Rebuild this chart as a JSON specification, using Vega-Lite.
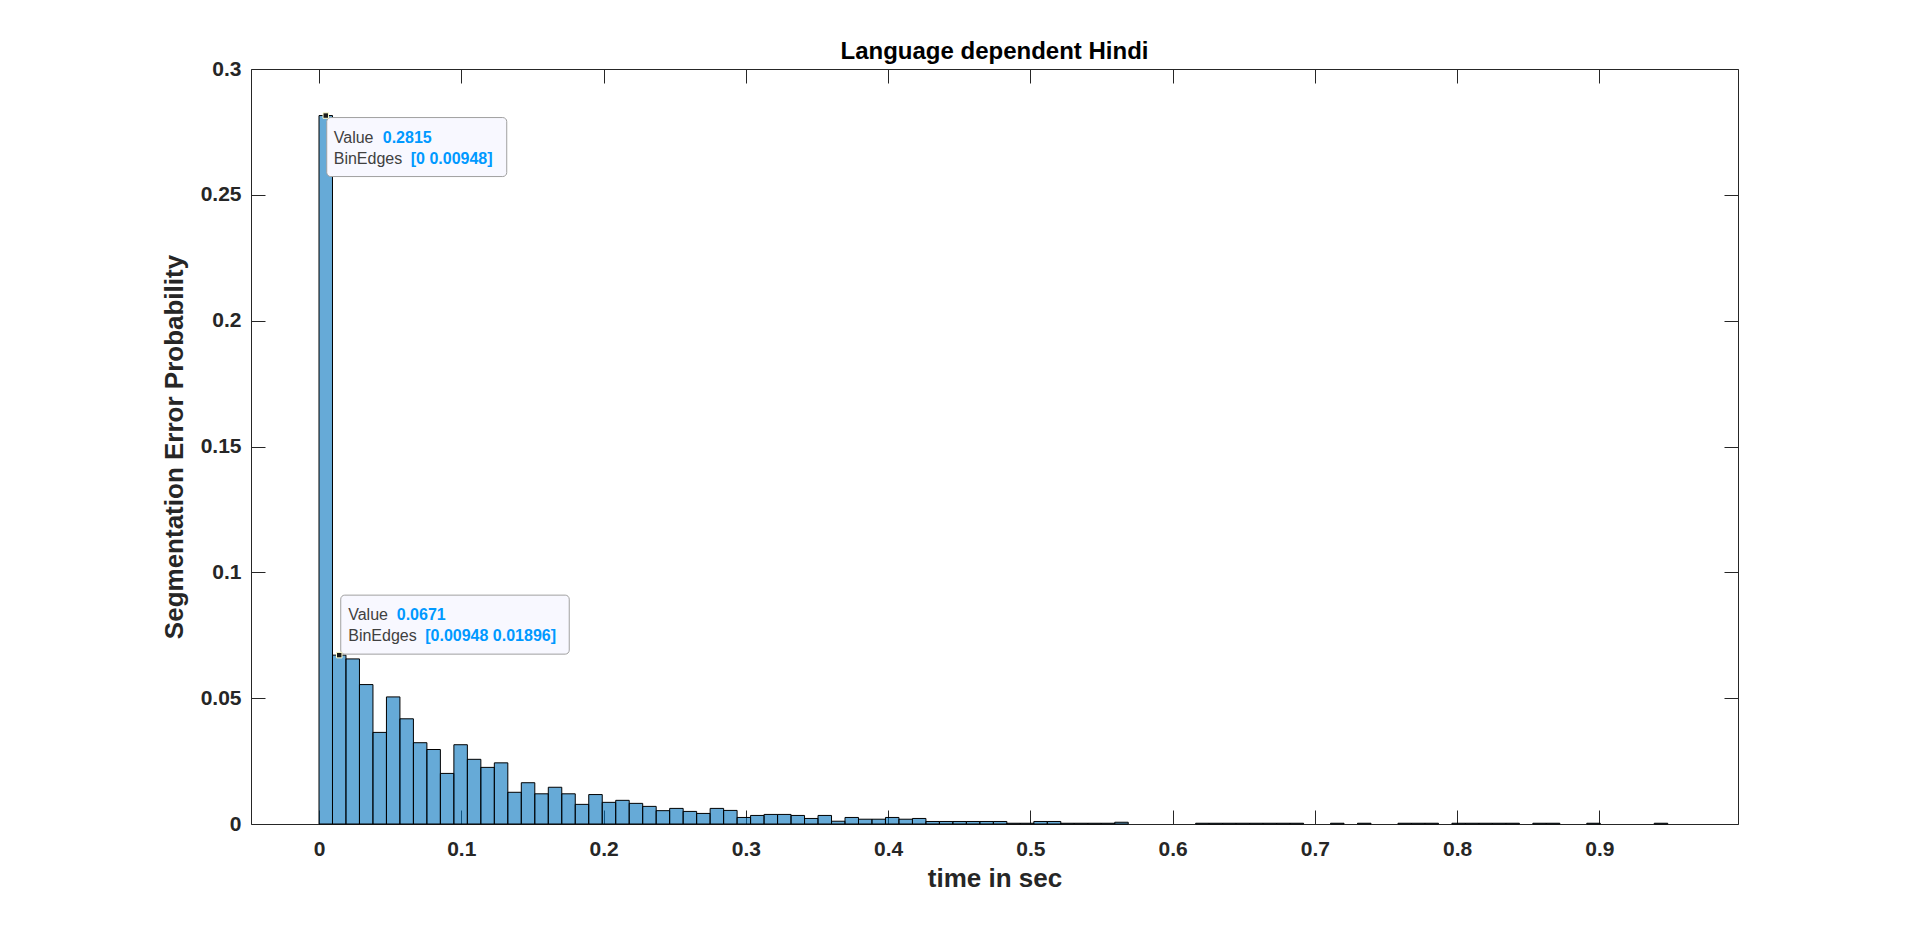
{
  "$schema": "https://vega.github.io/schema/vega-lite/v6.json",
  "width": 1487,
  "height": 755,
  "autosize": {"type": "none"},
  "padding": {"left": 251, "top": 69, "right": 180, "bottom": 101},
  "background": "white",
  "title": {"text": "Language dependent Hindi", "font": "Liberation Sans", "fontSize": 24, "fontWeight": "bold", "color": "#000000", "anchor": "middle", "offset": -6},
  "config": {"view": {"stroke": null}},
  "datasets": {
    "bins": [
      {"x0": 0, "x1": 0.00948, "p": 0.2815},
      {"x0": 0.00948, "x1": 0.01896, "p": 0.0671},
      {"x0": 0.01896, "x1": 0.02844, "p": 0.0656},
      {"x0": 0.02844, "x1": 0.03792, "p": 0.0554},
      {"x0": 0.03792, "x1": 0.0474, "p": 0.0364},
      {"x0": 0.0474, "x1": 0.05688, "p": 0.0505},
      {"x0": 0.05688, "x1": 0.06636, "p": 0.0418},
      {"x0": 0.06636, "x1": 0.07584, "p": 0.0323},
      {"x0": 0.07584, "x1": 0.08532, "p": 0.0296},
      {"x0": 0.08532, "x1": 0.0948, "p": 0.0201},
      {"x0": 0.0948, "x1": 0.10428, "p": 0.0315},
      {"x0": 0.10428, "x1": 0.11376, "p": 0.0257},
      {"x0": 0.11376, "x1": 0.12324, "p": 0.0225},
      {"x0": 0.12324, "x1": 0.13272, "p": 0.0243},
      {"x0": 0.13272, "x1": 0.1422, "p": 0.0126},
      {"x0": 0.1422, "x1": 0.15168, "p": 0.0164},
      {"x0": 0.15168, "x1": 0.16116, "p": 0.012},
      {"x0": 0.16116, "x1": 0.17064, "p": 0.0146},
      {"x0": 0.17064, "x1": 0.18012, "p": 0.012},
      {"x0": 0.18012, "x1": 0.1896, "p": 0.0078},
      {"x0": 0.1896, "x1": 0.19908, "p": 0.0117},
      {"x0": 0.19908, "x1": 0.20856, "p": 0.0086},
      {"x0": 0.20856, "x1": 0.21804, "p": 0.0094},
      {"x0": 0.21804, "x1": 0.22752, "p": 0.0082},
      {"x0": 0.22752, "x1": 0.237, "p": 0.007},
      {"x0": 0.237, "x1": 0.24648, "p": 0.0053},
      {"x0": 0.24648, "x1": 0.25596, "p": 0.0062},
      {"x0": 0.25596, "x1": 0.26544, "p": 0.005},
      {"x0": 0.26544, "x1": 0.27492, "p": 0.0042},
      {"x0": 0.27492, "x1": 0.2844, "p": 0.0062},
      {"x0": 0.2844, "x1": 0.29388, "p": 0.0054},
      {"x0": 0.29388, "x1": 0.30336, "p": 0.0026},
      {"x0": 0.30336, "x1": 0.31284, "p": 0.0034},
      {"x0": 0.31284, "x1": 0.32232, "p": 0.0038},
      {"x0": 0.32232, "x1": 0.3318, "p": 0.0038},
      {"x0": 0.3318, "x1": 0.34128, "p": 0.0034},
      {"x0": 0.34128, "x1": 0.35076, "p": 0.0022},
      {"x0": 0.35076, "x1": 0.36024, "p": 0.0034},
      {"x0": 0.36024, "x1": 0.36972, "p": 0.0011},
      {"x0": 0.36972, "x1": 0.3792, "p": 0.0026},
      {"x0": 0.3792, "x1": 0.38868, "p": 0.0019},
      {"x0": 0.38868, "x1": 0.39816, "p": 0.0019},
      {"x0": 0.39816, "x1": 0.40764, "p": 0.0026},
      {"x0": 0.40764, "x1": 0.41712, "p": 0.0019},
      {"x0": 0.41712, "x1": 0.4266, "p": 0.0022},
      {"x0": 0.4266, "x1": 0.43608, "p": 0.001},
      {"x0": 0.43608, "x1": 0.44556, "p": 0.001},
      {"x0": 0.44556, "x1": 0.45504, "p": 0.001},
      {"x0": 0.45504, "x1": 0.46452, "p": 0.001},
      {"x0": 0.46452, "x1": 0.474, "p": 0.001},
      {"x0": 0.474, "x1": 0.48348, "p": 0.001},
      {"x0": 0.48348, "x1": 0.49296, "p": 0.0003},
      {"x0": 0.49296, "x1": 0.50244, "p": 0.0003},
      {"x0": 0.50244, "x1": 0.51192, "p": 0.001},
      {"x0": 0.51192, "x1": 0.5214, "p": 0.001},
      {"x0": 0.5214, "x1": 0.53088, "p": 0.0003},
      {"x0": 0.53088, "x1": 0.54036, "p": 0.0003},
      {"x0": 0.54036, "x1": 0.54984, "p": 0.0003},
      {"x0": 0.54984, "x1": 0.55932, "p": 0.0003},
      {"x0": 0.55932, "x1": 0.5688, "p": 0.0007},
      {"x0": 0.6162, "x1": 0.62568, "p": 0.0003},
      {"x0": 0.62568, "x1": 0.63516, "p": 0.0003},
      {"x0": 0.63516, "x1": 0.64464, "p": 0.0003},
      {"x0": 0.64464, "x1": 0.65412, "p": 0.0003},
      {"x0": 0.65412, "x1": 0.6636, "p": 0.0003},
      {"x0": 0.6636, "x1": 0.67308, "p": 0.0003},
      {"x0": 0.67308, "x1": 0.68256, "p": 0.0003},
      {"x0": 0.68256, "x1": 0.69204, "p": 0.0003},
      {"x0": 0.711, "x1": 0.72048, "p": 0.0003},
      {"x0": 0.72996, "x1": 0.73944, "p": 0.0003},
      {"x0": 0.7584, "x1": 0.76788, "p": 0.0003},
      {"x0": 0.76788, "x1": 0.77736, "p": 0.0003},
      {"x0": 0.77736, "x1": 0.78684, "p": 0.0003},
      {"x0": 0.79632, "x1": 0.8058, "p": 0.0003},
      {"x0": 0.8058, "x1": 0.81528, "p": 0.0003},
      {"x0": 0.81528, "x1": 0.82476, "p": 0.0003},
      {"x0": 0.82476, "x1": 0.83424, "p": 0.0003},
      {"x0": 0.83424, "x1": 0.84372, "p": 0.0003},
      {"x0": 0.8532, "x1": 0.86268, "p": 0.0003},
      {"x0": 0.86268, "x1": 0.87216, "p": 0.0003},
      {"x0": 0.89112, "x1": 0.9006, "p": 0.0003},
      {"x0": 0.93852, "x1": 0.948, "p": 0.0003}
    ],
    "tips": [
      {"tip": 1, "x": 0.00474, "v": 0.2815, "lab1": "Value", "val1": "0.2815", "lab2": "BinEdges", "val2": "[0 0.00948]"},
      {"tip": 2, "x": 0.01422, "v": 0.0671, "lab1": "Value", "val1": "0.0671", "lab2": "BinEdges", "val2": "[0.00948 0.01896]"}
    ]
  },
  "resolve": {"axis": {"x": "independent", "y": "independent"}},
  "layer": [
    {
      "data": {"name": "bins"},
      "mark": {"type": "rect", "fill": "#0072BD", "fillOpacity": 0.6, "stroke": "#000000", "strokeWidth": 1},
      "encoding": {
        "x": {"field": "x0", "type": "quantitative",
          "scale": {"domain": [-0.0478, 0.9974], "nice": false, "zero": false},
          "axis": {"orient": "bottom", "values": [0, 0.1, 0.2, 0.3, 0.4, 0.5, 0.6, 0.7, 0.8, 0.9], "format": "~g",
            "title": "time in sec", "grid": false, "domain": true, "domainColor": "#262626", "domainWidth": 1,
            "ticks": true, "tickSize": -14, "tickColor": "#262626", "tickWidth": 1,
            "labelFont": "Liberation Sans", "labelFontSize": 21, "labelFontWeight": "bold", "labelColor": "#262626",
            "labelPadding": 28, "labelFlush": false, "labelOverlap": false,
            "titleFont": "Liberation Sans", "titleFontSize": 26, "titleFontWeight": "bold", "titleColor": "#262626", "titlePadding": 6}},
        "x2": {"field": "x1"},
        "y": {"field": "p", "type": "quantitative",
          "scale": {"domain": [0, 0.3], "nice": false},
          "axis": {"orient": "left", "values": [0, 0.05, 0.1, 0.15, 0.2, 0.25, 0.3], "format": "~g",
            "title": "Segmentation Error Probability", "grid": false, "domain": true, "domainColor": "#262626", "domainWidth": 1,
            "ticks": true, "tickSize": -14, "tickColor": "#262626", "tickWidth": 1,
            "labelFont": "Liberation Sans", "labelFontSize": 21, "labelFontWeight": "bold", "labelColor": "#262626",
            "labelPadding": 24, "labelFlush": false, "labelOverlap": false,
            "titleFont": "Liberation Sans", "titleFontSize": 26, "titleFontWeight": "bold", "titleColor": "#262626", "titlePadding": 13}},
        "y2": {"datum": 0}
      }
    },
    {
      "data": {"name": "tips"},
      "transform": [{"filter": "datum.tip == 1"}],
      "mark": {"type": "rect", "fill": "#F8F8FF", "stroke": "#A0A0A0", "strokeWidth": 1, "cornerRadius": 4, "xOffset": 1, "x2Offset": 181, "yOffset": 2, "y2Offset": 61},
      "encoding": {
        "x": {"field": "x", "type": "quantitative",
          "axis": {"orient": "top", "values": [0, 0.1, 0.2, 0.3, 0.4, 0.5, 0.6, 0.7, 0.8, 0.9], "labels": false, "title": null, "grid": false,
            "domain": true, "domainColor": "#262626", "domainWidth": 1, "ticks": true, "tickSize": -14, "tickColor": "#262626", "tickWidth": 1}},
        "x2": {"field": "x"},
        "y": {"field": "v", "type": "quantitative",
          "axis": {"orient": "right", "values": [0, 0.05, 0.1, 0.15, 0.2, 0.25, 0.3], "labels": false, "title": null, "grid": false,
            "domain": true, "domainColor": "#262626", "domainWidth": 1, "ticks": true, "tickSize": -14, "tickColor": "#262626", "tickWidth": 1}},
        "y2": {"field": "v"}
      }
    },
    {
      "data": {"name": "tips"},
      "transform": [{"filter": "datum.tip == 1"}],
      "mark": {"type": "text", "font": "Liberation Sans", "fontSize": 16, "color": "#404040", "align": "left", "baseline": "alphabetic", "dx": 8, "dy": 27},
      "encoding": {"x": {"field": "x", "type": "quantitative", "axis": null}, "y": {"field": "v", "type": "quantitative", "axis": null}, "text": {"field": "lab1"}}
    },
    {
      "data": {"name": "tips"},
      "transform": [{"filter": "datum.tip == 1"}],
      "mark": {"type": "text", "font": "Liberation Sans", "fontSize": 16, "fontWeight": "bold", "color": "#0099FF", "align": "left", "baseline": "alphabetic", "dx": 57, "dy": 27},
      "encoding": {"x": {"field": "x", "type": "quantitative", "axis": null}, "y": {"field": "v", "type": "quantitative", "axis": null}, "text": {"field": "val1"}}
    },
    {
      "data": {"name": "tips"},
      "transform": [{"filter": "datum.tip == 1"}],
      "mark": {"type": "text", "font": "Liberation Sans", "fontSize": 16, "color": "#404040", "align": "left", "baseline": "alphabetic", "dx": 8, "dy": 48},
      "encoding": {"x": {"field": "x", "type": "quantitative", "axis": null}, "y": {"field": "v", "type": "quantitative", "axis": null}, "text": {"field": "lab2"}}
    },
    {
      "data": {"name": "tips"},
      "transform": [{"filter": "datum.tip == 1"}],
      "mark": {"type": "text", "font": "Liberation Sans", "fontSize": 16, "fontWeight": "bold", "color": "#0099FF", "align": "left", "baseline": "alphabetic", "dx": 85, "dy": 48},
      "encoding": {"x": {"field": "x", "type": "quantitative", "axis": null}, "y": {"field": "v", "type": "quantitative", "axis": null}, "text": {"field": "val2"}}
    },
    {
      "data": {"name": "tips"},
      "transform": [{"filter": "datum.tip == 2"}],
      "mark": {"type": "rect", "fill": "#F8F8FF", "stroke": "#A0A0A0", "strokeWidth": 1, "cornerRadius": 4, "xOffset": 1.5, "x2Offset": 230, "yOffset": -60, "y2Offset": -1},
      "encoding": {"x": {"field": "x", "type": "quantitative", "axis": null}, "x2": {"field": "x"}, "y": {"field": "v", "type": "quantitative", "axis": null}, "y2": {"field": "v"}}
    },
    {
      "data": {"name": "tips"},
      "transform": [{"filter": "datum.tip == 2"}],
      "mark": {"type": "text", "font": "Liberation Sans", "fontSize": 16, "color": "#404040", "align": "left", "baseline": "alphabetic", "dx": 9, "dy": -35},
      "encoding": {"x": {"field": "x", "type": "quantitative", "axis": null}, "y": {"field": "v", "type": "quantitative", "axis": null}, "text": {"field": "lab1"}}
    },
    {
      "data": {"name": "tips"},
      "transform": [{"filter": "datum.tip == 2"}],
      "mark": {"type": "text", "font": "Liberation Sans", "fontSize": 16, "fontWeight": "bold", "color": "#0099FF", "align": "left", "baseline": "alphabetic", "dx": 57.5, "dy": -35},
      "encoding": {"x": {"field": "x", "type": "quantitative", "axis": null}, "y": {"field": "v", "type": "quantitative", "axis": null}, "text": {"field": "val1"}}
    },
    {
      "data": {"name": "tips"},
      "transform": [{"filter": "datum.tip == 2"}],
      "mark": {"type": "text", "font": "Liberation Sans", "fontSize": 16, "color": "#404040", "align": "left", "baseline": "alphabetic", "dx": 9, "dy": -14},
      "encoding": {"x": {"field": "x", "type": "quantitative", "axis": null}, "y": {"field": "v", "type": "quantitative", "axis": null}, "text": {"field": "lab2"}}
    },
    {
      "data": {"name": "tips"},
      "transform": [{"filter": "datum.tip == 2"}],
      "mark": {"type": "text", "font": "Liberation Sans", "fontSize": 16, "fontWeight": "bold", "color": "#0099FF", "align": "left", "baseline": "alphabetic", "dx": 86, "dy": -14},
      "encoding": {"x": {"field": "x", "type": "quantitative", "axis": null}, "y": {"field": "v", "type": "quantitative", "axis": null}, "text": {"field": "val2"}}
    },
    {
      "data": {"name": "tips"},
      "mark": {"type": "point", "shape": "square", "size": 30, "filled": true, "fill": "#1A1A1A", "stroke": "#FFFFD0", "strokeWidth": 1, "opacity": 1},
      "encoding": {"x": {"field": "x", "type": "quantitative", "axis": null}, "y": {"field": "v", "type": "quantitative", "axis": null}}
    }
  ]
}
